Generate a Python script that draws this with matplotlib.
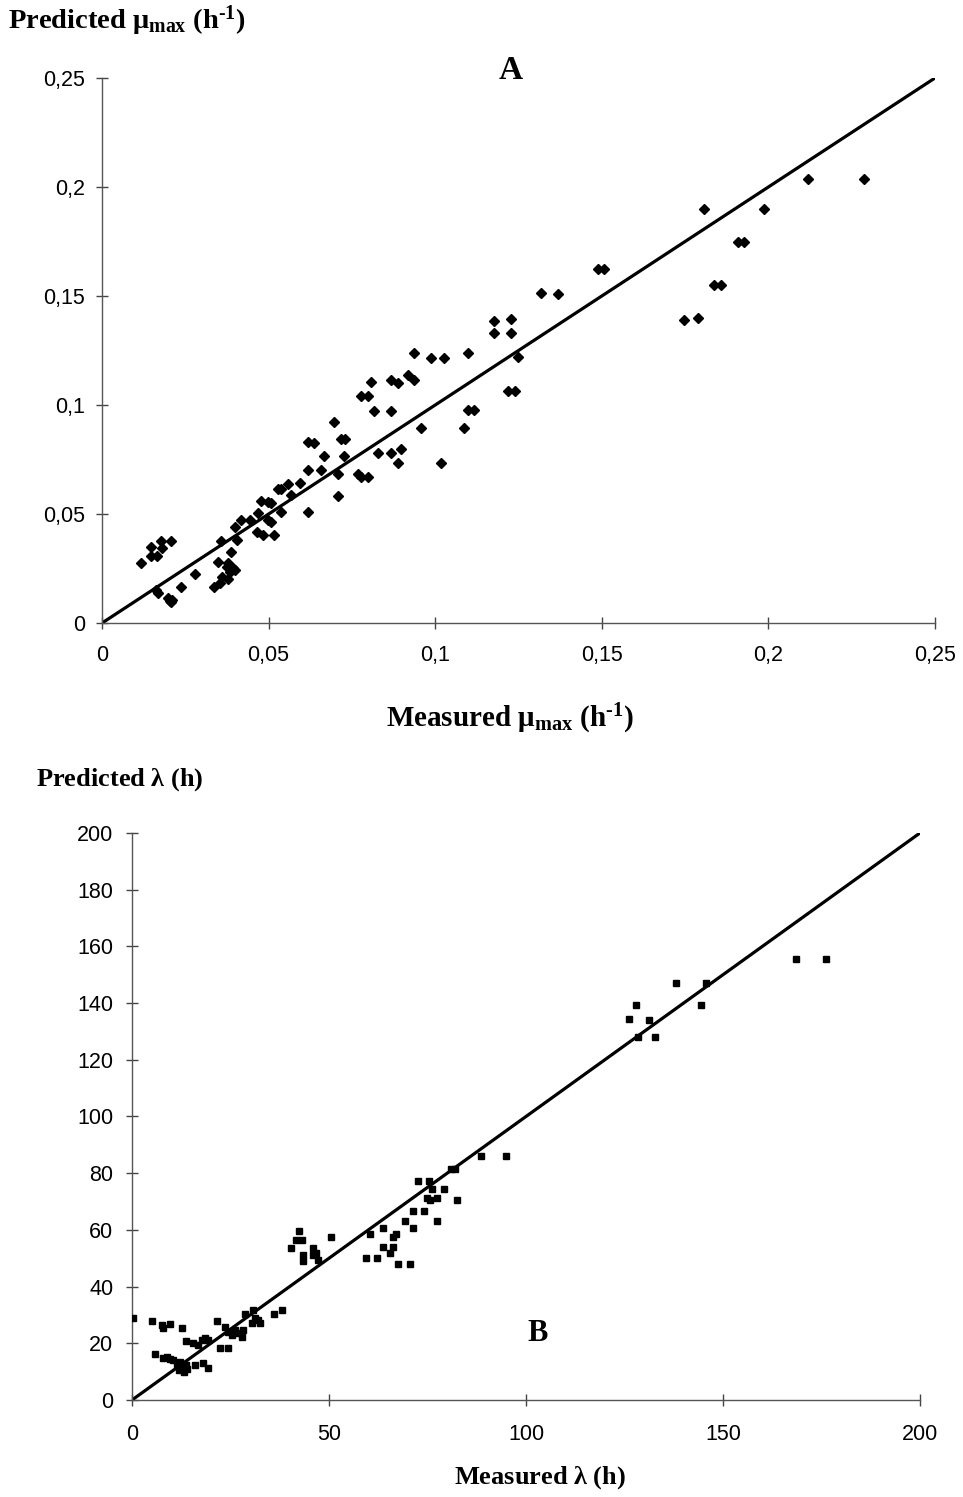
import matplotlib
matplotlib.use('Agg')
import matplotlib.pyplot as plt

plt.rcParams['font.family'] = ['Liberation Sans', 'DejaVu Sans']
plt.rcParams['mathtext.fontset'] = 'custom'
plt.rcParams['mathtext.rm'] = 'Liberation Serif:bold'
plt.rcParams['mathtext.it'] = 'Liberation Serif:bold'
plt.rcParams['mathtext.bf'] = 'Liberation Serif:bold'

# Panel A: growth rate (h^-1), measured vs predicted
mu_measured = [
    0.0117, 0.0147, 0.0147, 0.0165, 0.0177, 0.0180, 0.0207, 0.0162, 0.0168,
    0.0198, 0.0204, 0.0210, 0.0207, 0.0237, 0.0279, 0.0336, 0.0348,
    0.0354, 0.0360, 0.0375, 0.0378, 0.0384, 0.0393, 0.0399, 0.0378,
    0.0357, 0.0387, 0.0399, 0.0405, 0.0417, 0.0444, 0.0465, 0.0483, 0.0468,
    0.0477, 0.0498, 0.0507, 0.0498, 0.0507, 0.0516, 0.0537, 0.0528, 0.0537,
    0.0558, 0.0567, 0.0594, 0.0618, 0.0618, 0.0618, 0.0636, 0.0657, 0.0666,
    0.0696, 0.0708, 0.0708, 0.0717, 0.0729, 0.0726, 0.0768, 0.0777, 0.0798,
    0.0777, 0.0798, 0.0807, 0.0816, 0.0828, 0.0867, 0.0888, 0.0867, 0.0867,
    0.0888, 0.0897, 0.0936, 0.0918, 0.0936, 0.0957, 0.0987, 0.1026, 0.1017,
    0.1086, 0.1098, 0.1098, 0.1116, 0.1176, 0.1227, 0.1176, 0.1227, 0.1218,
    0.1239, 0.1248, 0.1318, 0.1369, 0.1489, 0.1507, 0.1747, 0.1789, 0.1807,
    0.1837, 0.1858, 0.1909, 0.1927, 0.1987, 0.2119, 0.2287,
]
mu_predicted = [
    0.0275, 0.0349, 0.0307, 0.0307, 0.0376, 0.0344, 0.0376, 0.0151, 0.0138,
    0.0115, 0.0101, 0.0106, 0.0096, 0.0165, 0.0225, 0.0165, 0.0280,
    0.0183, 0.0211, 0.0257, 0.0275, 0.0234, 0.0252, 0.0243, 0.0202,
    0.0376, 0.0326, 0.0440, 0.0381, 0.0472, 0.0472, 0.0417, 0.0404, 0.0505,
    0.0560, 0.0555, 0.0550, 0.0472, 0.0463, 0.0404, 0.0509, 0.0615, 0.0615,
    0.0638, 0.0587, 0.0642, 0.0702, 0.0509, 0.0830, 0.0826, 0.0702, 0.0766,
    0.0922, 0.0683, 0.0583, 0.0844, 0.0844, 0.0766, 0.0683, 0.0670, 0.0670,
    0.1041, 0.1041, 0.1106, 0.0972, 0.0780, 0.1115, 0.1101, 0.0972, 0.0780,
    0.0734, 0.0798, 0.1239, 0.1138, 0.1115, 0.0894, 0.1216, 0.1216, 0.0734,
    0.0894, 0.1239, 0.0977, 0.0977, 0.1385, 0.1394, 0.1330, 0.1330, 0.1064,
    0.1064, 0.1220, 0.1514, 0.1509, 0.1624, 0.1624, 0.1390, 0.1399, 0.1899,
    0.1550, 0.1550, 0.1748, 0.1748, 0.1899, 0.2037, 0.2037,
]
mu_ticks = [0, 0.05, 0.1, 0.15, 0.2, 0.25]
mu_tick_labels = ['0', '0,05', '0,1', '0,15', '0,2', '0,25']

# Panel B: lag time (h), measured vs predicted
lag_measured = [
    0.25, 5.0, 7.6, 7.9, 9.6, 12.7, 13.7, 5.8, 7.9, 8.9, 9.6, 10.4,
    11.4, 12.0, 12.6, 13.2, 13.8, 14.0, 12.3, 13.0,
    15.5, 16.8, 17.8, 18.5, 19.3, 18.0, 19.3, 16.0, 21.6, 22.3, 24.4,
    23.6, 24.4, 25.4, 26.1, 26.9, 27.9, 28.2,
    28.7, 30.7, 31.2, 30.5, 32.0, 32.5, 36.0, 38.0,
    42.4, 41.6, 43.1, 40.4, 43.4, 43.4, 45.9, 45.9, 46.7, 47.2, 50.5,
    59.4, 60.4, 62.2, 63.7, 63.7, 65.5, 66.2, 66.2, 67.0, 67.5, 69.3,
    70.6, 71.3, 71.3, 72.6, 74.1, 74.9, 75.6, 75.4, 76.1, 77.4, 77.4,
    79.2, 82.5, 81.0, 82.0, 88.6, 94.9,
    126.1, 127.9, 128.4, 131.2, 132.7, 138.1, 144.4, 145.7, 168.5, 176.1,
]
lag_predicted = [
    28.9, 27.9, 26.5, 25.4, 26.8, 25.4, 20.8, 16.2, 14.8, 15.2, 14.5, 14.1,
    12.8, 10.5, 11.8, 9.8, 12.5, 10.9, 13.5, 11.2,
    20.1, 19.4, 21.2, 21.9, 21.2, 13.0, 11.3, 12.3, 27.9, 18.3, 18.3,
    25.7, 24.0, 22.9, 24.7, 23.6, 22.2, 24.7,
    30.3, 31.7, 28.9, 27.2, 28.2, 27.2, 30.3, 31.7,
    59.6, 56.4, 56.4, 53.6, 51.1, 49.0, 53.6, 51.1, 51.8, 49.4, 57.5,
    50.1, 58.6, 50.1, 60.7, 54.0, 51.8, 54.0, 57.5, 58.6, 48.0, 63.1,
    48.0, 60.7, 66.7, 77.2, 66.7, 71.3, 70.5, 77.2, 74.4, 71.3, 63.1,
    74.4, 70.5, 81.5, 81.5, 86.1, 86.1,
    134.4, 139.3, 128.0, 134.1, 128.0, 147.1, 139.3, 147.1, 155.6, 155.6,
]
lag_ticks = [0, 50, 100, 150, 200]
lag_yticks = [0, 20, 40, 60, 80, 100, 120, 140, 160, 180, 200]

serif_bold = dict(family='Liberation Serif', fontweight='bold', color='black')


def style_axes(ax, xpad, ypad):
    for side in ('top', 'right'):
        ax.spines[side].set_visible(False)
    for side in ('left', 'bottom'):
        ax.spines[side].set_color('#555555')
        ax.spines[side].set_linewidth(1.0)
    ax.tick_params(direction='inout', length=9, width=1.0, color='#444444',
                   labelsize=15.5)
    ax.tick_params(axis='x', pad=xpad)
    ax.tick_params(axis='y', pad=ypad)


fig = plt.figure(figsize=(9.63, 14.97), dpi=100)

# --- Panel A ---
axA = fig.add_axes([0.1059, 0.5838, 0.8650, 0.3641])
axA.plot([0, 0.25], [0, 0.25], color='black', lw=2.3, zorder=2)
axA.plot(mu_measured, mu_predicted, linestyle='none', marker='D', ms=5,
         color='black', zorder=3)
axA.set_xlim(0, 0.25)
axA.set_ylim(0, 0.25)
axA.set_xticks(mu_ticks)
axA.set_xticklabels(mu_tick_labels)
axA.set_yticks(mu_ticks)
axA.set_yticklabels(mu_tick_labels)
style_axes(axA, xpad=11, ypad=7.5)

fig.text(0.008, 0.986, r'Predicted $\mu_{max}$ (h$^{\text{-}1}$)', fontsize=20.5,
         va='center', ha='left', **serif_bold)
fig.text(0.53, 0.953, 'A', fontsize=24, va='center', ha='center', **serif_bold)
fig.text(0.53, 0.520, r'Measured $\mu_{max}$ (h$^{\text{-}1}$)', fontsize=21,
         va='center', ha='center', **serif_bold)

# --- Panel B ---
axB = fig.add_axes([0.1371, 0.0648, 0.8183, 0.3788])
axB.plot([0, 200], [0, 200], color='black', lw=2.3, zorder=2)
axB.plot(lag_measured, lag_predicted, linestyle='none', marker='s', ms=5,
         color='black', zorder=3)
axB.set_xlim(0, 200)
axB.set_ylim(0, 200)
axB.set_xticks(lag_ticks)
axB.set_yticks(lag_yticks)
style_axes(axB, xpad=13, ypad=9)

fig.text(0.037, 0.479, r'Predicted $\lambda$ (h)', fontsize=19,
         va='center', ha='left', **serif_bold)
fig.text(0.558, 0.109, 'B', fontsize=22, va='center', ha='center', **serif_bold)
fig.text(0.561, 0.0127, r'Measured $\lambda$ (h)', fontsize=19,
         va='center', ha='center', **serif_bold)

fig.savefig('out.png', dpi=100)
